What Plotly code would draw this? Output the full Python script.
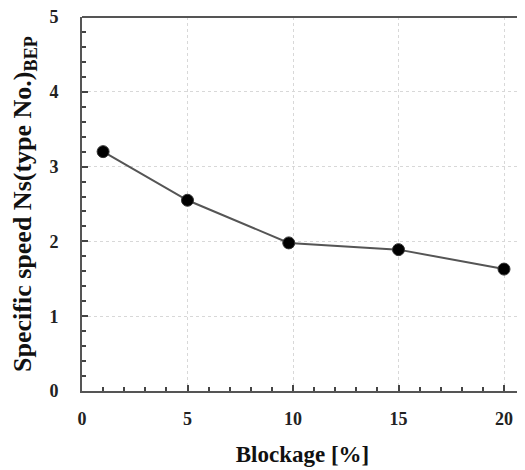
import plotly.graph_objects as go

blockage = [1, 5, 9.8, 15, 20]
ns_bep = [3.2, 2.55, 1.98, 1.89, 1.63]

x_ticks = [0, 5, 10, 15, 20]
y_ticks = [0, 1, 2, 3, 4, 5]

font_family = "Liberation Serif, Times New Roman, serif"

fig = go.Figure()
fig.add_trace(go.Scatter(
    x=blockage, y=ns_bep, mode="lines+markers",
    line=dict(color="#555555", width=2),
    marker=dict(color="black", size=12, line=dict(color="#333333", width=1)),
    showlegend=False,
))

fig.update_layout(
    width=517, height=462,
    margin=dict(l=74, r=2, t=9, b=79),
    paper_bgcolor="white", plot_bgcolor="white",
    font=dict(family=font_family, color="#1a1a1a"),
    xaxis=dict(
        range=[0, 20.9], tickvals=x_ticks, ticktext=[str(v) for v in x_ticks],
        ticks="inside", ticklen=6, tickwidth=1.5, tickcolor="#444444",
        minor=dict(dtick=1, ticks="inside", ticklen=4, tickcolor="#444444", showgrid=False),
        showline=True, linecolor="#555555", linewidth=2, mirror=False,
        showgrid=True, gridcolor="#d8d8d8", griddash="dot", gridwidth=1,
        tickfont=dict(size=18, family=font_family, color="#222222", weight="bold"),
        ticklabelstandoff=10,
        ticklabeloverflow="allow",
        automargin=False,
        title=dict(text="Blockage [%]", font=dict(size=23, family=font_family, color="#111111", weight="bold"), standoff=18),
        zeroline=False,
    ),
    yaxis=dict(
        range=[0, 5], tickvals=y_ticks, ticktext=[str(v) for v in y_ticks],
        ticks="inside", ticklen=6, tickwidth=1.5, tickcolor="#444444",
        minor=dict(dtick=0.2, ticks="inside", ticklen=4, tickcolor="#444444", showgrid=False),
        showline=True, linecolor="#555555", linewidth=2,
        showgrid=True, gridcolor="#d8d8d8", griddash="dot", gridwidth=1,
        tickfont=dict(size=18, family=font_family, color="#222222", weight="bold"),
        ticklabelstandoff=18,
        ticklabeloverflow="allow",
        automargin=False,
        title=dict(text="Specific speed Ns(type No.)<sub>BEP</sub>", font=dict(size=26, family=font_family, color="#111111", weight="bold"), standoff=10),
        zeroline=False,
    ),
)

# top border line
fig.add_shape(type="line", xref="paper", yref="paper", x0=0, x1=1, y0=1, y1=1,
              line=dict(color="#555555", width=2))

fig.write_html("out.html")
